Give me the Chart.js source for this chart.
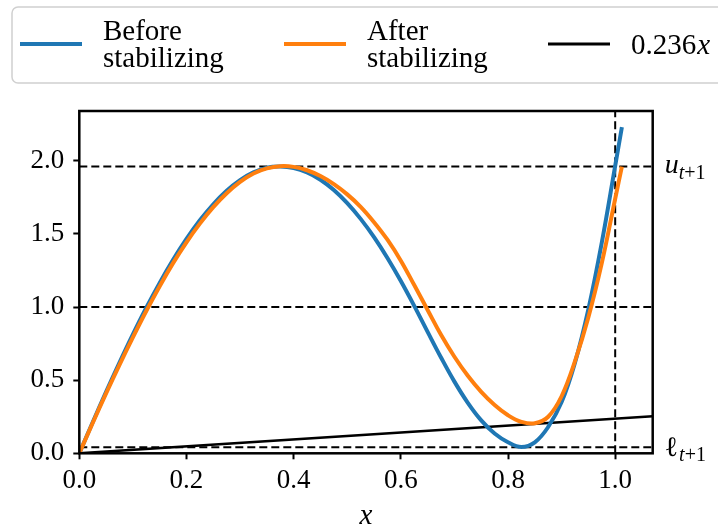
<!DOCTYPE html>
<html>
<head>
<meta charset="utf-8">
<script src="https://cdn.jsdelivr.net/npm/chart.js@4.4.1/dist/chart.umd.min.js"></script>
<style>
  html, body { margin: 0; padding: 0; background: #fff; }
  #wrap { width: 718px; height: 527px; }
</style>
</head>
<body>
<div id="wrap"><canvas id="stabChart" width="718" height="527"></canvas></div>
<script>
// sample positions along x (shared by both curves)
const xs = [0, 0.025, 0.05, 0.075, 0.1, 0.125, 0.15, 0.175, 0.2, 0.225,
  0.25, 0.275, 0.3, 0.325, 0.35, 0.375, 0.4, 0.425, 0.45, 0.475,
  0.5, 0.525, 0.55, 0.575, 0.6, 0.625, 0.65, 0.675, 0.7, 0.725,
  0.75, 0.775, 0.8, 0.825, 0.85, 0.875, 0.9, 0.925, 0.95, 0.975,
  1.0, 1.0125];
const beforeY = [0, 0.2125, 0.42, 0.62, 0.8125, 0.995, 1.165, 1.3225, 1.465, 1.5925,
  1.7025, 1.795, 1.8675, 1.92, 1.9525, 1.96, 1.95, 1.92, 1.87, 1.80,
  1.71, 1.6025, 1.4775, 1.335, 1.1775, 1.0075, 0.83, 0.655, 0.49, 0.345,
  0.225, 0.135, 0.075, 0.043, 0.075, 0.18, 0.35, 0.62, 0.985, 1.44,
  1.965, 2.23];
const afterY = [0, 0.2075, 0.41, 0.605, 0.7925, 0.9725, 1.1425, 1.30, 1.4425, 1.57,
  1.6825, 1.7775, 1.855, 1.9125, 1.9475, 1.9625, 1.958, 1.935, 1.895, 1.84,
  1.77, 1.685, 1.58, 1.46, 1.317, 1.15, 0.98, 0.81, 0.66, 0.53,
  0.42, 0.33, 0.26, 0.215, 0.205, 0.25, 0.39, 0.63, 0.93, 1.30,
  1.74, 1.96];
// the 0.236x reference line
const refX = [0, 1.07];
const refY = [0, 0.2525];

const upperBound = 1.96;   // u_{t+1}
const lowerBound = 0.041;  // l_{t+1}
const midLevel = 1.0;
const xMarker = 1.0;

const xRange = [0, 1.07];
const yRange = [0, 2.34];
const xTicks = [0, 0.2, 0.4, 0.6, 0.8, 1.0];
const yTicks = [0, 0.5, 1.0, 1.5, 2.0];

const seriesLabels = ['Before\nstabilizing', 'After\nstabilizing', '0.236x'];
const seriesColors = ['#1f77b4', '#ff7f0e', '#000000'];

const SERIF = "'Liberation Serif', 'Times New Roman', serif";

function pts(xv, yv) {
  return xv.map((x, i) => ({ x: x, y: yv[i] }));
}

function dashed(data) {
  return {
    data: data, borderColor: '#000', borderWidth: 2, borderDash: [8, 4],
    pointRadius: 0, fill: false, order: 3
  };
}

// legend drawn in matplotlib style (multi-line labels)
const legendBox = {
  id: 'legendBox',
  afterDraw(chart) {
    const ctx = chart.ctx;
    ctx.save();
    ctx.beginPath();
    ctx.roundRect(12, 7, 730, 76, 6);
    ctx.fillStyle = 'rgba(255,255,255,0.8)';
    ctx.fill();
    ctx.strokeStyle = '#d0d0d0';
    ctx.lineWidth = 1.5;
    ctx.stroke();

    chart.data.datasets.forEach(ds => {
      if (ds.legendSlot === undefined) return;
      const hx = 20 + ds.legendSlot * 264;
      ctx.beginPath();
      ctx.moveTo(hx, 44);
      ctx.lineTo(hx + 62, 44);
      ctx.strokeStyle = ds.borderColor;
      ctx.lineWidth = ds.legendSlot === 2 ? 3 : 4;
      ctx.stroke();

      ctx.fillStyle = '#000';
      ctx.textBaseline = 'alphabetic';
      ctx.textAlign = 'left';
      const tx = hx + 83;
      const lines = ds.label.split('\n');
      if (lines.length > 1) {
        ctx.font = '29px ' + SERIF;
        ctx.fillText(lines[0], tx, 40);
        ctx.fillText(lines[1], tx, 67);
      } else {
        const m = ds.label.match(/^([\d.]+)(x)$/);
        ctx.font = '29px ' + SERIF;
        ctx.fillText(m[1], tx, 54);
        const w = ctx.measureText(m[1]).width;
        ctx.font = 'italic 29px ' + SERIF;
        ctx.fillText(m[2], tx + w + 1, 54);
      }
    });
    ctx.restore();
  }
};

// frame around the axes plus bound labels on the right
const frameAndBounds = {
  id: 'frameAndBounds',
  afterDatasetsDraw(chart) {
    const ctx = chart.ctx;
    const a = chart.chartArea;
    const ys = chart.scales.y;
    ctx.save();
    ctx.strokeStyle = '#000';
    ctx.lineWidth = 2.5;
    ctx.strokeRect(a.left, a.top, a.right - a.left, a.bottom - a.top);

    ctx.fillStyle = '#000';
    ctx.textAlign = 'left';
    ctx.textBaseline = 'alphabetic';
    const lx = a.right + 12;

    let by = ys.getPixelForValue(upperBound) + 6.5;
    ctx.font = 'italic 28px ' + SERIF;
    ctx.fillText('u', lx, by);
    let w = ctx.measureText('u').width;
    ctx.font = 'italic 20px ' + SERIF;
    ctx.fillText('t', lx + w, by + 6);
    let w2 = ctx.measureText('t').width;
    ctx.font = '20px ' + SERIF;
    ctx.fillText('+1', lx + w + w2, by + 6);

    by = ys.getPixelForValue(lowerBound) + 9;
    ctx.font = '28px ' + SERIF;
    ctx.fillText('\u2113', lx, by);
    w = ctx.measureText('\u2113').width;
    ctx.font = 'italic 20px ' + SERIF;
    ctx.fillText('t', lx + w + 1, by + 5);
    w2 = ctx.measureText('t').width;
    ctx.font = '20px ' + SERIF;
    ctx.fillText('+1', lx + w + 1 + w2, by + 5);
    ctx.restore();
  }
};

const ctx = document.getElementById('stabChart').getContext('2d');
new Chart(ctx, {
  type: 'line',
  data: {
    datasets: [
      {
        label: seriesLabels[1], legendSlot: 1,
        data: pts(xs, afterY),
        borderColor: seriesColors[1], borderWidth: 4,
        pointRadius: 0, tension: 0.4, order: 0
      },
      {
        label: seriesLabels[0], legendSlot: 0,
        data: pts(xs, beforeY),
        borderColor: seriesColors[0], borderWidth: 4,
        pointRadius: 0, tension: 0.4, order: 1
      },
      {
        label: seriesLabels[2], legendSlot: 2,
        data: pts(refX, refY),
        borderColor: seriesColors[2], borderWidth: 2.5,
        pointRadius: 0, order: 2
      },
      dashed(pts(xRange, [upperBound, upperBound])),
      dashed(pts(xRange, [midLevel, midLevel])),
      dashed(pts(xRange, [lowerBound, lowerBound])),
      dashed(pts([xMarker, xMarker], yRange))
    ]
  },
  options: {
    responsive: false,
    animation: false,
    layout: { padding: { top: 111, right: 65.3, left: 0, bottom: 0 } },
    plugins: { legend: { display: false }, tooltip: { enabled: false } },
    scales: {
      x: {
        type: 'linear',
        min: xRange[0], max: xRange[1],
        afterBuildTicks: s => { s.ticks = xTicks.map(v => ({ value: v })); },
        afterFit: s => { s.height = 73.7; },
        ticks: {
          color: '#000', padding: 5, maxRotation: 0,
          font: { family: SERIF, size: 27 },
          callback: v => v.toFixed(1)
        },
        grid: { drawOnChartArea: false, drawTicks: true, tickLength: 6, tickWidth: 2, tickColor: '#000' },
        border: { display: false },
        title: {
          display: true, text: 'x', color: '#000',
          font: { family: SERIF, size: 29, style: 'italic' },
          padding: { top: -7, bottom: -7 }
        }
      },
      y: {
        type: 'linear',
        min: yRange[0], max: yRange[1],
        afterBuildTicks: s => { s.ticks = yTicks.map(v => ({ value: v })); },
        afterFit: s => { s.width = 79.3; },
        ticks: {
          color: '#000', padding: 9,
          font: { family: SERIF, size: 27 },
          callback: v => v.toFixed(1)
        },
        grid: { drawOnChartArea: false, drawTicks: true, tickLength: 6, tickWidth: 2, tickColor: '#000' },
        border: { display: false }
      }
    }
  },
  plugins: [frameAndBounds, legendBox]
});
</script>
</body>
</html>
